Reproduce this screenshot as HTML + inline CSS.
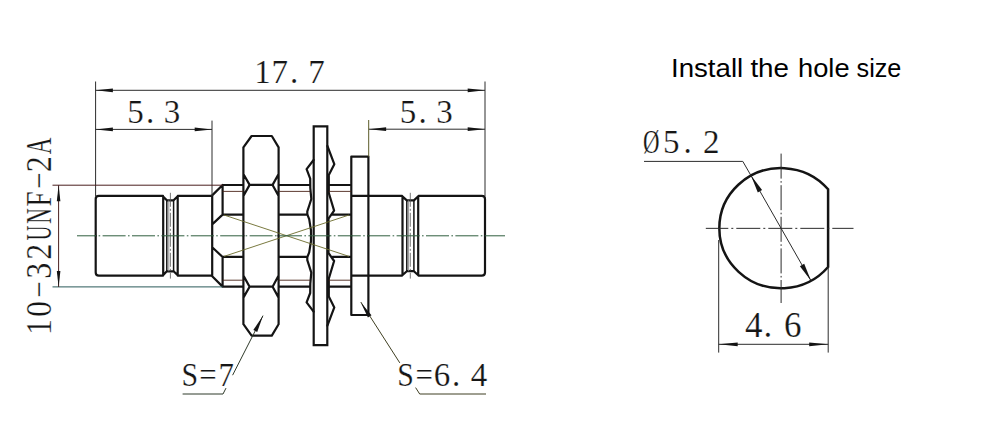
<!DOCTYPE html>
<html><head><meta charset="utf-8"><title>Install the hole size</title>
<style>html,body{margin:0;padding:0;background:#fff}svg{display:block}</style></head>
<body><svg width="1000" height="421" viewBox="0 0 1000 421">
<rect width="1000" height="421" fill="#fff"/>
<g><path d="M163,195.9 H98.8 Q95.7,195.9 95.7,199 V235.8 M177.8,195.9 H212.2 M162.6,195.9 L166.8,200.3 H173.6 L178.2,195.9 M163.2,196.5 V235.8 M177.7,196.5 V235.8 M212.2,195.8 V235.8 M212.2,195.4 L222.6,185 V214.6 L212.2,224.4 M222.6,185 H243.4 M222.6,214.7 H243.4 M243.4,147.4 L251.6,136 H271.8 L278.6,147.4 M243.4,174 L249.6,184.9 H272.6 L278.6,174 M243.4,147.4 V235.8 M278.6,147.4 V235.8 M243.4,196 L249.6,184.9 M278.6,196 L272.6,184.9 M278.6,185 H310 M278.6,214.7 H307.6 M329,185 H351.3 M332.6,214.7 H351.3 M313.6,160 L306.6,169.2 L310.2,178.6 L310.3,188 L311.3,199 L309.4,205 L307.3,211.4 L307.3,214.4 L309.2,219.2 L311,230.6 L311,235.8 M327.4,146 L334.3,164.2 L328.8,175 L328.8,193 L334.1,210.6 L328.5,218.6 L328.5,235.8 M351.3,235.8 V156.6 H368.4 V235.8 M351.3,195.9 H368.4 M368.4,195.9 H402 M418.6,195.9 H481.8 Q485,195.9 485,199 V235.8 M401.8,195.9 L406.8,200.4 H413.9 L418.8,195.9 M402.5,196.5 V235.8 M418.2,196.5 V235.8" fill="none" stroke="#141414" stroke-width="2.2" stroke-linejoin="round" stroke-linecap="round"/>
<path d="M313.7,235.8 V126.4 H327.3 V235.8" fill="none" stroke="#141414" stroke-width="2.2" stroke-linejoin="miter"/>
<path d="M166.8,200.3 V235.8 M173.6,200.3 V235.8 M406.8,200.4 V235.8 M413.9,200.4 V235.8" fill="none" stroke="#141414" stroke-width="1.5"/>
<path d="M168.8,200.3 V235.8 M408.6,200.4 V235.8" fill="none" stroke="#888" stroke-width="0.9"/>
<path d="M222.6,191.4 H243.4 M278.6,191.4 H310 M328.8,191.4 H351.3" fill="none" stroke="#4a2418" stroke-width="0.9"/></g><g transform="translate(0,471.6) scale(1,-1)"><path d="M163,195.9 H98.8 Q95.7,195.9 95.7,199 V235.8 M177.8,195.9 H212.2 M162.6,195.9 L166.8,200.3 H173.6 L178.2,195.9 M163.2,196.5 V235.8 M177.7,196.5 V235.8 M212.2,195.8 V235.8 M212.2,195.4 L222.6,185 V214.6 L212.2,224.4 M222.6,185 H243.4 M222.6,214.7 H243.4 M243.4,147.4 L251.6,136 H271.8 L278.6,147.4 M243.4,174 L249.6,184.9 H272.6 L278.6,174 M243.4,147.4 V235.8 M278.6,147.4 V235.8 M243.4,196 L249.6,184.9 M278.6,196 L272.6,184.9 M278.6,185 H310 M278.6,214.7 H307.6 M329,185 H351.3 M332.6,214.7 H351.3 M313.6,160 L306.6,169.2 L310.2,178.6 L310.3,188 L311.3,199 L309.4,205 L307.3,211.4 L307.3,214.4 L309.2,219.2 L311,230.6 L311,235.8 M327.4,146 L334.3,164.2 L328.8,175 L328.8,193 L334.1,210.6 L328.5,218.6 L328.5,235.8 M351.3,235.8 V156.6 H368.4 V235.8 M351.3,195.9 H368.4 M368.4,195.9 H402 M418.6,195.9 H481.8 Q485,195.9 485,199 V235.8 M401.8,195.9 L406.8,200.4 H413.9 L418.8,195.9 M402.5,196.5 V235.8 M418.2,196.5 V235.8" fill="none" stroke="#141414" stroke-width="2.2" stroke-linejoin="round" stroke-linecap="round"/>
<path d="M313.7,235.8 V126.4 H327.3 V235.8" fill="none" stroke="#141414" stroke-width="2.2" stroke-linejoin="miter"/>
<path d="M166.8,200.3 V235.8 M173.6,200.3 V235.8 M406.8,200.4 V235.8 M413.9,200.4 V235.8" fill="none" stroke="#141414" stroke-width="1.5"/>
<path d="M168.8,200.3 V235.8 M408.6,200.4 V235.8" fill="none" stroke="#888" stroke-width="0.9"/>
<path d="M222.6,191.4 H243.4 M278.6,191.4 H310 M328.8,191.4 H351.3" fill="none" stroke="#4a2418" stroke-width="0.9"/></g>
<path d="M224,215 L349,256.4 M224,256.4 L349,215" fill="none" stroke="#6b6b2a" stroke-width="0.9"/>
<path d="M170.4,192.8 V278.6 M410.3,192.8 V278.6" fill="none" stroke="#555" stroke-width="0.8" stroke-dasharray="14 2 2 2"/>
<path d="M77,235.8 H505" fill="none" stroke="#2f5f3f" stroke-width="1" stroke-dasharray="23 2.4 1.6 2.4" stroke-dashoffset="3.8"/>
<path d="M95.6,81.5 V196 M485,81.5 V196 M95.6,90.3 H485 M212,120.6 V196 M95.6,129.4 H212 M368.8,129.2 H485" fill="none" stroke="#2c2c2c" stroke-width="1"/>
<path d="M368.7,120 V156.6" fill="none" stroke="#5a5a28" stroke-width="1"/>
<polygon points="95.6,90.3 112.9,92.2 112.9,88.4" fill="#141414"/><polygon points="485.0,90.3 467.7,88.4 467.7,92.2" fill="#141414"/><polygon points="95.6,129.4 112.9,131.3 112.9,127.5" fill="#141414"/><polygon points="212.0,129.4 194.7,127.5 194.7,131.3" fill="#141414"/><polygon points="368.8,129.2 386.1,131.1 386.1,127.3" fill="#141414"/><polygon points="485.0,129.2 467.7,127.3 467.7,131.1" fill="#141414"/>
<path d="M52.5,185.2 H222.6" fill="none" stroke="#4a1f1f" stroke-width="1"/>
<path d="M52.5,286.9 H222.6" fill="none" stroke="#2a5a5a" stroke-width="1"/>
<path d="M58.6,185.2 V286.9" fill="none" stroke="#4a2020" stroke-width="1"/>
<polygon points="58.6,185.2 56.8,201.2 60.4,201.2" fill="#141414"/><polygon points="58.6,286.9 60.4,270.9 56.8,270.9" fill="#141414"/>
<path d="M182.6,394 H223 L226,388.1 M232.6,375.2 L263,315.6" fill="none" stroke="#2f3a2a" stroke-width="1"/>
<polygon points="263.0,315.8 253.3,329.9 257.2,331.9" fill="#141414"/>
<path d="M360.8,302 L399.8,362.9 M415.6,387.6 L419.7,394 H486" fill="none" stroke="#3f3f22" stroke-width="1"/>
<polygon points="360.8,302.4 367.9,317.4 371.5,315.2" fill="#141414"/>
<path d="M828.1,189.3 A61.7,60.1 0 1 0 828.1,267.0 Z" fill="none" stroke="#141414" stroke-width="2.5" stroke-linejoin="miter"/>
<path d="M705.8,228.35 H853.5" fill="none" stroke="#2a2a2a" stroke-width="1" stroke-dasharray="24 3 2 3" stroke-dashoffset="1.5"/>
<path d="M781.1,153.6 V303" fill="none" stroke="#2a2a2a" stroke-width="1" stroke-dasharray="25 2.5 1.6 2.5"/>
<path d="M644,161.4 H742.8 L751.0,175.6 L811.0,280.7" fill="none" stroke="#2c2c2c" stroke-width="1"/>
<polygon points="751.0,175.6 757.8,192.5 762.1,190.0" fill="#151515"/><polygon points="811.0,280.7 804.2,263.8 799.9,266.3" fill="#151515"/>
<path d="M718.7,240 V352.6 M828.2,267.0 V352.6 M718.7,344.3 H828.2" fill="none" stroke="#2c2c2c" stroke-width="1"/>
<polygon points="718.7,344.3 737.7,346.2 737.7,342.4" fill="#141414"/><polygon points="828.2,344.3 809.2,342.4 809.2,346.2" fill="#141414"/>
<g font-family="'Liberation Serif',serif" fill="#161616" stroke="#fff" stroke-width="0.2"><text x="254.3 271.4 290.0 308.3" y="83.2" font-size="33" >17.7</text><text x="127.3 146.0 163.8" y="122.6" font-size="33" >5.3</text><text x="399.8 418.5 436.3" y="123.2" font-size="33" >5.3</text><text y="386.4" font-size="33" ><tspan x="181.6" textLength="16.6" lengthAdjust="spacingAndGlyphs">S</tspan><tspan x="199.2" textLength="17.4" lengthAdjust="spacingAndGlyphs">=</tspan><tspan x="218.4" textLength="15.4" lengthAdjust="spacingAndGlyphs">7</tspan></text><text y="386.4" font-size="33" ><tspan x="397.2" textLength="16.6" lengthAdjust="spacingAndGlyphs">S</tspan><tspan x="415.4" textLength="17.4" lengthAdjust="spacingAndGlyphs">=</tspan><tspan x="433.8">6</tspan><tspan x="452.0">.</tspan><tspan x="470.8">4</tspan></text><text y="153.4" font-size="33"><tspan x="643" textLength="16.5" lengthAdjust="spacingAndGlyphs">Ø</tspan><tspan x="663 683.4 703">5.2</tspan></text><text x="745.0 763.6 784.0" y="337" font-size="35" >4.6</text><g transform="translate(51.3,0) rotate(-90) scale(1,1.09)"><text y="0" font-size="32"><tspan x="-335">1</tspan><tspan x="-317">0</tspan><tspan x="-298.3" textLength="17.6" lengthAdjust="spacingAndGlyphs" y="-5.4" font-size="22">-</tspan><tspan x="-278.8" y="0">3</tspan><tspan x="-259.8">2</tspan><tspan x="-240.4" textLength="15" lengthAdjust="spacingAndGlyphs">U</tspan><tspan x="-223.8" textLength="15.6" lengthAdjust="spacingAndGlyphs">N</tspan><tspan x="-206.6" textLength="15" lengthAdjust="spacingAndGlyphs">F</tspan><tspan x="-189.6" textLength="17.6" lengthAdjust="spacingAndGlyphs" y="-5.4" font-size="22">-</tspan><tspan x="-172.2" y="0">2</tspan><tspan x="-154.2" textLength="16.6" lengthAdjust="spacingAndGlyphs">A</tspan></text></g></g>
<text y="76.6" font-family="'Liberation Sans',sans-serif" font-size="25.8" fill="#000"><tspan x="671.0" textLength="72.2" lengthAdjust="spacingAndGlyphs">Install</tspan> <tspan x="750.4" textLength="38.6" lengthAdjust="spacingAndGlyphs">the</tspan> <tspan x="798.0" textLength="51.6" lengthAdjust="spacingAndGlyphs">hole</tspan> <tspan x="856.6" textLength="44.8" lengthAdjust="spacingAndGlyphs">size</tspan></text>
</svg></body></html>
